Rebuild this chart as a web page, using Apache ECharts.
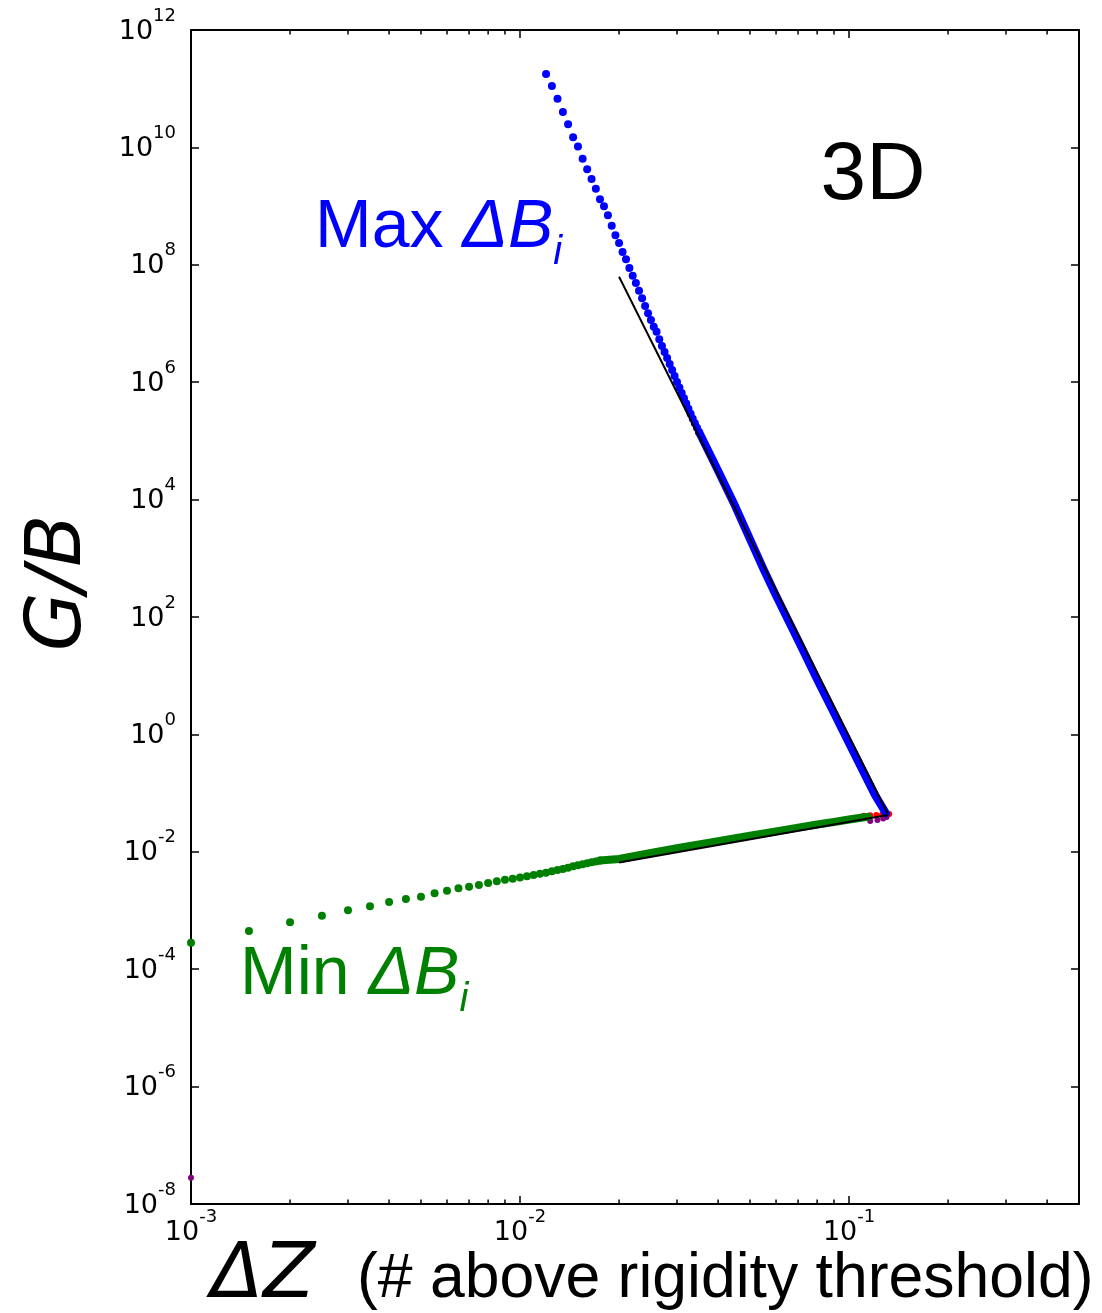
<!DOCTYPE html>
<html>
<head>
<meta charset="utf-8">
<script src="https://cdn.jsdelivr.net/npm/echarts@6/dist/echarts.min.js"></script>
<style>
  html, body { margin: 0; padding: 0; background: #fff; }
  #chart { width: 1102px; height: 1313px; }
</style>
</head>
<body>
<div id="chart"></div>
<script>
// ---- Max ΔB_i : individually resolved points (ΔZ grid, G/B) ----
const maxDotX = [0.012, 0.0125, 0.013, 0.0135, 0.014, 0.0145, 0.015, 0.0155, 0.016, 0.0165,
                 0.017, 0.0175, 0.018, 0.0185, 0.019, 0.0195, 0.02, 0.0205, 0.021, 0.0215,
                 0.022, 0.0225, 0.023, 0.0235, 0.024, 0.0245, 0.025, 0.0255, 0.026, 0.0265,
                 0.027, 0.0275, 0.028, 0.0285, 0.029, 0.0295, 0.03, 0.0305, 0.031, 0.0315,
                 0.032, 0.0325, 0.033, 0.0335, 0.034, 0.0345, 0.035];
const maxDotY = [1.78e11, 1.11e11, 6.76e10, 4.01e10, 2.47e10, 1.49e10, 1.04e10, 6.42e9, 4.24e9, 2.90e9,
                 1.98e9, 1.31e9, 9.92e8, 6.97e8, 4.63e8, 3.18e8, 2.35e8, 1.65e8, 1.24e8, 8.82e7,
                 6.52e7, 4.90e7, 3.62e7, 2.69e7, 1.99e7, 1.49e7, 1.15e7, 8.82e6, 7.25e6, 5.38e6,
                 4.14e6, 3.27e6, 2.58e6, 2.04e6, 1.61e6, 1.28e6, 1.01e6, 8.12e5, 6.55e5, 5.32e5,
                 4.32e5, 3.54e5, 2.89e5, 2.39e5, 1.99e5, 1.67e5, 1.41e5];
// ---- Max ΔB_i : dense run where the points merge into a band ----
const maxBandX = [0.035, 0.04, 0.045, 0.05, 0.055, 0.06, 0.07, 0.08, 0.09, 0.1, 0.11, 0.12, 0.1295];
const maxBandY = [1.42e5, 3.09e4, 7.90e3, 2.12e3, 6.49e2, 2.31e2, 40.3, 8.61, 2.32, 0.711, 0.244, 0.0925, 0.0453];

// ---- Min ΔB_i : individually resolved points ----
const minDotX = [0.001, 0.0015, 0.002, 0.0025, 0.003, 0.0035, 0.004, 0.0045, 0.005, 0.0055,
                 0.006, 0.0065, 0.007, 0.0075, 0.008, 0.0085, 0.009, 0.0095, 0.01, 0.0105,
                 0.011, 0.0115, 0.012, 0.0125, 0.013, 0.0135, 0.014, 0.0145, 0.015, 0.0155,
                 0.016, 0.0165, 0.017, 0.0175];
const minDotY = [2.83e-4, 4.48e-4, 6.30e-4, 8.17e-4, 1.01e-3, 1.18e-3, 1.40e-3, 1.57e-3, 1.72e-3, 1.96e-3,
                 2.17e-3, 2.39e-3, 2.55e-3, 2.72e-3, 2.94e-3, 3.14e-3, 3.35e-3, 3.48e-3, 3.65e-3, 3.83e-3,
                 4.03e-3, 4.24e-3, 4.41e-3, 4.66e-3, 4.90e-3, 5.09e-3, 5.36e-3, 5.66e-3, 5.89e-3, 6.12e-3,
                 6.37e-3, 6.62e-3, 6.84e-3, 7.08e-3];
// ---- Min ΔB_i : dense band ----
const minBandX = [0.0175, 0.02, 0.025, 0.03, 0.035, 0.04, 0.05, 0.06, 0.07, 0.08, 0.09, 0.1, 0.11, 0.114];
const minBandY = [7.08e-3, 7.54e-3, 9.54e-3, 1.15e-2, 1.33e-2, 1.51e-2, 1.89e-2, 2.23e-2, 2.58e-2, 2.91e-2,
                  3.22e-2, 3.55e-2, 3.84e-2, 3.94e-2];

// ---- power-law fits ----
const fitHighX = [0.02, 0.131];
const fitHighY = [6.27e7, 0.0449];
const fitLowX = [0.02, 0.131];
const fitLowY = [6.6e-3, 0.0424];

// ---- points near the rigidity threshold ----
const redX = [0.111, 0.116, 0.121, 0.126, 0.1305, 0.1325];
const redY = [0.0413, 0.0418, 0.0425, 0.0432, 0.0438, 0.0441];
const purpleX = [0.001, 0.116, 0.122, 0.127, 0.13];
const purpleY = [2.8e-8, 0.0335, 0.0348, 0.0370, 0.0392];

// ---- axis ticks ----
const xMinorTicks = [0.002, 0.003, 0.004, 0.005, 0.006, 0.007, 0.008, 0.009,
                     0.02, 0.03, 0.04, 0.05, 0.06, 0.07, 0.08, 0.09,
                     0.2, 0.3, 0.4];
const xRange = [0.001, 0.5];
const yRange = [1e-8, 1e12];
const yDecadeStep = 2;

function zip(xs, ys) { return xs.map((x, i) => [x, ys[i]]); }

function powLabel(v) {
  const lg = Math.log10(v);
  const e = Math.round(lg);
  if (Math.abs(lg - e) > 1e-6) return '';
  return '{b|10}{s|' + e + '}';
}

const labelRich = {
  b: { fontFamily: 'DejaVu Sans', fontSize: 27, color: '#000', lineHeight: 38, verticalAlign: 'bottom' },
  s: { fontFamily: 'DejaVu Sans', fontSize: 18, color: '#000', lineHeight: 18, verticalAlign: 'top' }
};
const frameLine = { show: true, onZero: false, lineStyle: { color: '#000', width: 2 } };
const majorTick = { show: true, inside: true, length: 8, lineStyle: { color: '#000', width: 1.5 } };

const chart = echarts.init(document.getElementById('chart'));

chart.setOption({
  animation: false,
  backgroundColor: '#fff',
  grid: { left: 191, top: 30, right: 23, bottom: 109, containLabel: false },
  xAxis: [
    { type: 'log', logBase: 10, min: xRange[0], max: xRange[1], position: 'bottom',
      axisLine: frameLine, axisTick: majorTick, splitLine: { show: false },
      axisLabel: { formatter: powLabel, rich: labelRich, margin: 4 } },
    { type: 'log', logBase: 10, min: xRange[0], max: xRange[1], position: 'top',
      axisLine: frameLine, axisTick: majorTick, splitLine: { show: false },
      axisLabel: { show: false } }
  ],
  yAxis: [
    { type: 'log', logBase: 10, min: yRange[0], max: yRange[1], interval: yDecadeStep, position: 'left',
      axisLine: frameLine, axisTick: majorTick, splitLine: { show: false },
      axisLabel: { formatter: powLabel, rich: labelRich, margin: 15, padding: [0, 0, 8, 0] } },
    { type: 'log', logBase: 10, min: yRange[0], max: yRange[1], interval: yDecadeStep, position: 'right',
      axisLine: frameLine, axisTick: majorTick, splitLine: { show: false },
      axisLabel: { show: false } }
  ],
  series: [
    { name: 'Min ΔBi', type: 'scatter', data: zip(minDotX, minDotY), symbolSize: 8,
      itemStyle: { color: '#008000', opacity: 1 }, silent: true },
    { name: 'Min ΔBi', type: 'line', data: zip(minBandX, minBandY), showSymbol: false,
      lineStyle: { color: '#008000', width: 8, cap: 'round', join: 'round', opacity: 1 }, silent: true },
    { name: 'Max ΔBi', type: 'scatter', data: zip(maxDotX, maxDotY), symbolSize: 8,
      itemStyle: { color: '#0000ff', opacity: 1 }, silent: true },
    { name: 'Max ΔBi', type: 'line', data: zip(maxBandX, maxBandY), showSymbol: false,
      lineStyle: { color: '#0000ff', width: 8, cap: 'round', join: 'round', opacity: 1 }, silent: true },
    { name: 'mid', type: 'scatter', data: zip(purpleX, purpleY), symbolSize: 6,
      itemStyle: { color: '#800080', opacity: 1 }, silent: true },
    { name: 'fit high', type: 'line', data: zip(fitHighX, fitHighY), showSymbol: false,
      lineStyle: { color: '#000', width: 2 }, silent: true },
    { name: 'fit low', type: 'line', data: zip(fitLowX, fitLowY), showSymbol: false,
      lineStyle: { color: '#000', width: 2 }, silent: true },
    { name: 'threshold', type: 'scatter', data: zip(redX, redY), symbolSize: 6,
      itemStyle: { color: '#ff0000', opacity: 1 }, silent: true },
    { name: 'minor ticks', type: 'custom', silent: true, clip: false, z: 5,
      data: xMinorTicks.map(v => [v, 1]), encode: { x: 0, y: 1 },
      renderItem: function (params, api) {
        const px = api.coord([api.value(0), 1])[0];
        const cs = params.coordSys;
        const yb = cs.y + cs.height, yt = cs.y;
        return { type: 'group', children: [
          { type: 'line', shape: { x1: px, y1: yb, x2: px, y2: yb - 4.5 }, style: { stroke: '#000', lineWidth: 1.5 } },
          { type: 'line', shape: { x1: px, y1: yt, x2: px, y2: yt + 4.5 }, style: { stroke: '#000', lineWidth: 1.5 } }
        ] };
      } }
  ],
  graphic: [
    { type: 'text', x: 873, y: 176,
      style: { text: '3D', font: '82px "Liberation Sans"', fill: '#000', align: 'center', verticalAlign: 'middle' } },
    { type: 'text', x: 315, y: 228,
      style: { text: '{n|Max }{it|ΔB}{sub|i}', align: 'left', verticalAlign: 'middle', fill: '#0000ff',
        rich: {
          n: { fontFamily: 'Liberation Sans', fontSize: 68, lineHeight: 90, fill: '#0000ff', verticalAlign: 'middle' },
          it: { fontFamily: 'Liberation Sans', fontStyle: 'italic', fontSize: 68, lineHeight: 90, fill: '#0000ff', verticalAlign: 'middle' },
          sub: { fontFamily: 'Liberation Sans', fontStyle: 'italic', fontSize: 40, lineHeight: 40, fill: '#0000ff', verticalAlign: 'bottom' }
        } } },
    { type: 'text', x: 240, y: 975,
      style: { text: '{n|Min }{it|ΔB}{sub|i}', align: 'left', verticalAlign: 'middle', fill: '#008000',
        rich: {
          n: { fontFamily: 'Liberation Sans', fontSize: 68, lineHeight: 90, fill: '#008000', verticalAlign: 'middle' },
          it: { fontFamily: 'Liberation Sans', fontStyle: 'italic', fontSize: 68, lineHeight: 90, fill: '#008000', verticalAlign: 'middle' },
          sub: { fontFamily: 'Liberation Sans', fontStyle: 'italic', fontSize: 40, lineHeight: 40, fill: '#008000', verticalAlign: 'bottom' }
        } } },
    { type: 'text', x: 60, y: 583, rotation: Math.PI / 2,
      style: { text: 'G/B', font: 'italic 76px "DejaVu Sans"', fill: '#000', align: 'center', verticalAlign: 'middle' } },
    { type: 'text', x: 211, y: 1277,
      style: { text: 'ΔZ', font: 'italic 76px "DejaVu Sans"', fill: '#000', align: 'left', verticalAlign: 'middle' } },
    { type: 'text', x: 357, y: 1280,
      style: { text: '(# above rigidity threshold)', font: '62.5px "Liberation Sans"', fill: '#000', align: 'left', verticalAlign: 'middle' } }
  ]
});
</script>
</body>
</html>
